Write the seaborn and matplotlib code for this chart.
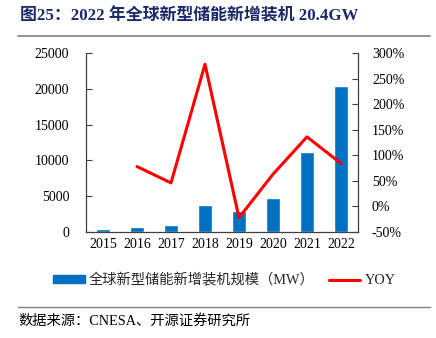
import numpy as np
import pandas as pd
import matplotlib
matplotlib.use("Agg")
import matplotlib.pyplot as plt
import seaborn as sns
from matplotlib.lines import Line2D
from matplotlib.patches import Patch
from matplotlib.ticker import FuncFormatter, FixedLocator

years = ["2015", "2016", "2017", "2018", "2019", "2020", "2021", "2022"]
capacity_mw = [400, 650, 980, 3720, 2890, 4700, 11130, 20440]
yoy_pct = [np.nan, 78, 46, 278, -22, 63, 136, 84]
left_ticks = [0, 5000, 10000, 15000, 20000, 25000]
right_ticks = [-50, 0, 50, 100, 150, 200, 250, 300]

title = "图25：2022 年全球新型储能新增装机 20.4GW"
bar_label = "全球新型储能新增装机规模（MW）"
line_label = "YOY"
source = "数据来源：CNESA、开源证券研究所"

sns.set_theme(style="white")
FAM = ["Liberation Serif", "Noto Sans CJK SC", "DejaVu Sans"]
plt.rcParams["font.family"] = FAM

BLUE = "#0070C0"
RED = "#FF0000"

df = pd.DataFrame({"year": years, "cap": capacity_mw, "yoy": yoy_pct})
df["pos"] = np.arange(len(df))

fig = plt.figure(figsize=(4.36, 3.38), dpi=100)
ax = fig.add_axes([86/436, 1-232/338, (358-86)/436, (232-53)/338])

sns.barplot(data=df, x="year", y="cap", color=BLUE, width=0.41, saturation=1, ax=ax)
ax.set_xlim(-0.5, len(years) - 0.5)
ax.set_ylim(0, 25000)
ax.yaxis.set_major_locator(FixedLocator(left_ticks))
ax.set_xlabel("")
ax.set_ylabel("")

ax2 = ax.twinx()
sns.lineplot(data=df.dropna(), x="pos", y="yoy", color=RED, lw=2.2, ax=ax2)
ax2.set_ylim(-50, 300)
ax2.yaxis.set_major_locator(FixedLocator(right_ticks))
ax2.yaxis.set_major_formatter(FuncFormatter(lambda v, p: f"{v:.0f}%"))
ax2.set_xlabel("")
ax2.set_ylabel("")
ax2.set_xlim(-0.5, len(years) - 0.5)

for a in (ax, ax2):
    for s in a.spines.values():
        s.set_color("#404040")
        s.set_linewidth(0.9)
    a.spines["top"].set_visible(False)
    a.grid(False)

ax.spines["right"].set_visible(False)
ax2.spines["left"].set_visible(False)
ax2.spines["bottom"].set_visible(False)

ax.tick_params(axis="y", direction="in", length=4, width=0.8, color="#404040",
               labelsize=10, pad=12, labelcolor="black")
ax.tick_params(axis="x", which="major", length=0, labelsize=10, pad=4, labelcolor="black")
ax.xaxis.set_minor_locator(FixedLocator(np.arange(0.5, len(years) - 1, 1)))
ax.tick_params(axis="x", which="minor", direction="in", length=4, width=0.8, color="#404040")
ax2.tick_params(axis="y", direction="in", length=4, width=0.8, color="#404040",
                labelsize=10, pad=10, labelcolor="black")

for lab in ax.get_xticklabels() + ax.get_yticklabels() + ax2.get_yticklabels():
    lab.set_fontfamily(FAM)

fig.text(20/436, 1-16/338, title, fontsize=12.2, fontweight="bold", color="#1B2A6B",
         va="center", ha="left", family=FAM)
fig.add_artist(Line2D([18/436, 430/436], [1-36/338, 1-36/338], color="#808080", lw=1.2))

handles = [Patch(facecolor=BLUE, edgecolor=BLUE), Line2D([0], [0], color=RED, lw=2.2)]
leg = fig.legend(handles, [bar_label, line_label], loc="center", bbox_to_anchor=(0.515, 1-280/338),
                 ncol=2, frameon=False, prop={"family": FAM, "size": 10.3},
                 handlelength=2.2, handleheight=0.45, columnspacing=1.0, handletextpad=0.3)

fig.add_artist(Line2D([18/436, 430/436], [1-307/338, 1-307/338], color="#808080", lw=1.0))
fig.text(18/436, 1-321/338, source, fontsize=10.3, color="black", va="center", ha="left", family=FAM)

fig.savefig("out.png", dpi=100)
